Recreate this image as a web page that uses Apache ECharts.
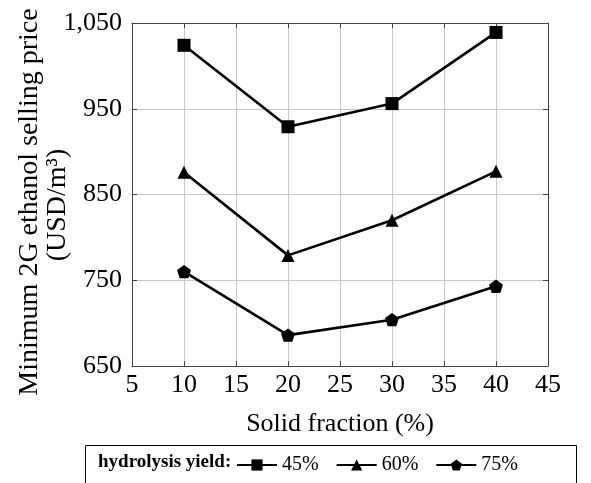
<!DOCTYPE html>
<html>
<head>
<meta charset="utf-8">
<script src="https://cdn.jsdelivr.net/npm/echarts@6/dist/echarts.min.js"></script>
<style>html,body{margin:0;padding:0;background:#fff;}#c{width:591px;height:483px;}</style>
</head>
<body>
<div id="c"></div>
<script>
const solidFraction = [10, 20, 30, 40];
const yield45 = [1024, 929, 956, 1039];
const yield60 = [876, 779, 820, 877];
const yield75 = [760, 686, 704, 743];
const seriesNames = ['45%', '60%', '75%'];
const xAxisTitle = 'Solid fraction (%)';
const yAxisTitleLine1 = 'Minimum 2G ethanol selling price';
const yAxisTitleLine2 = '(USD/m³)';
const legendTitle = 'hydrolysis yield:';

const FONT = 'Liberation Serif';
const pentagon = 'path://M0,-1L0.951,-0.309L0.588,0.809L-0.588,0.809L-0.951,-0.309Z';

function pts(ys){ return solidFraction.map((x,i)=>[x, ys[i]]); }
function fmt(v){ return v >= 1000 ? Math.floor(v/1000) + ',' + String(v%1000).padStart(3,'0') : String(v); }

const axisLineStyle = {show:true, lineStyle:{color:'#444', width:1}};
const tickStyle = {show:true, inside:true, length:5, lineStyle:{color:'#444', width:1}};

function mkSeries(name, ys, symbol, size){
  return {
    name, type:'line', data:pts(ys), symbol, symbolSize:size, symbolKeepAspect:true,
    showSymbol:true, xAxisIndex:0, yAxisIndex:0,
    lineStyle:{color:'#000', width:2.6}, itemStyle:{color:'#000'}, z:5
  };
}

const chart = echarts.init(document.getElementById('c'), null, {renderer:'canvas'});
chart.setOption({
  animation:false,
  backgroundColor:'#fff',
  grid:{left:132, right:43, top:23, bottom:117, show:false, containLabel:false, outerBoundsMode:'none'},
  xAxis:[{
    type:'value', min:5, max:45, interval:5, position:'bottom',
    name:xAxisTitle, nameLocation:'middle', nameGap:45,
    nameTextStyle:{fontFamily:FONT, fontSize:26, color:'#000'},
    axisLabel:{fontFamily:FONT, fontSize:26, color:'#000', margin:6},
    axisLine:axisLineStyle, axisTick:tickStyle,
    splitLine:{show:true, lineStyle:{color:'#c8c8c8', width:1}}
  },{
    type:'value', min:5, max:45, interval:5, position:'top',
    axisLabel:{show:false}, axisLine:axisLineStyle, axisTick:tickStyle, splitLine:{show:false}
  }],
  yAxis:[{
    type:'value', min:650, max:1050, interval:100, position:'left',
    axisLabel:{fontFamily:FONT, fontSize:26, color:'#000', margin:10, formatter:fmt},
    axisLine:axisLineStyle, axisTick:tickStyle,
    splitLine:{show:true, lineStyle:{color:'#c8c8c8', width:1}}
  },{
    type:'value', min:650, max:1050, interval:100, position:'right',
    axisLabel:{show:false}, axisLine:axisLineStyle, axisTick:tickStyle, splitLine:{show:false}
  }],
  legend:{
    left:231, top:450, itemWidth:40, itemHeight:14, itemGap:17,
    textStyle:{fontFamily:FONT, fontSize:20, color:'#000'},
    data:seriesNames
  },
  graphic:[
    {type:'text', x:30, y:202, rotation:Math.PI/2, style:{text:yAxisTitleLine1, font:'28px "Liberation Serif"', fill:'#000', align:'center', verticalAlign:'middle'}},
    {type:'text', x:58, y:205, rotation:Math.PI/2, style:{text:yAxisTitleLine2, font:'28px "Liberation Serif"', fill:'#000', align:'center', verticalAlign:'middle'}},
    {type:'rect', shape:{x:85.5, y:445.5, width:491, height:45}, style:{fill:'none', stroke:'#000', lineWidth:1}, silent:true},
    {type:'text', left:98, top:453, style:{text:legendTitle, font:'bold 19px "Liberation Serif"', fill:'#000'}}
  ],
  series:[
    mkSeries(seriesNames[0], yield45, 'rect', 13),
    mkSeries(seriesNames[1], yield60, 'triangle', 13),
    mkSeries(seriesNames[2], yield75, pentagon, 14)
  ]
});
</script>
</body>
</html>
